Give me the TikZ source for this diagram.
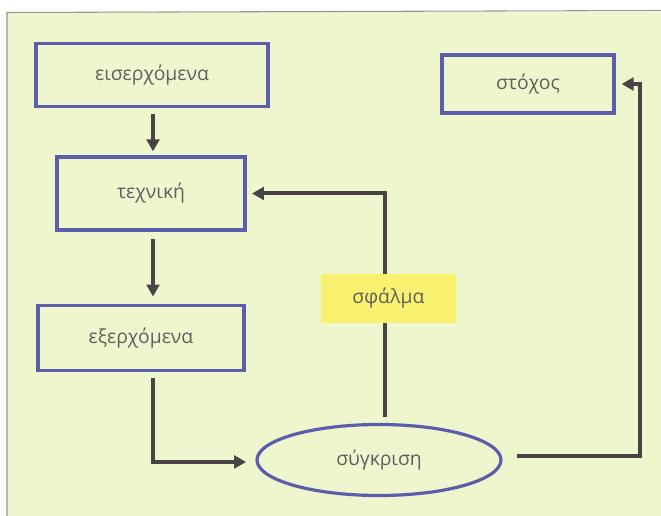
\documentclass[tikz,border=0pt]{standalone}
\usepackage{fontspec}
\setmainfont{Open Sans}
\usetikzlibrary{arrows.meta,shapes.geometric}
\definecolor{panel}{RGB}{238,246,205}
\definecolor{frameline}{RGB}{150,150,150}
\definecolor{boxblue}{RGB}{92,94,172}
\definecolor{errfill}{RGB}{251,241,112}
\definecolor{arrowgray}{RGB}{74,67,70}
\definecolor{labelgray}{RGB}{96,96,96}
\tikzset{
  labelfont/.style={text=labelgray, font=\fontsize{14.5}{17}\selectfont},
  stepbox/.style={draw=boxblue, line width=2.4pt, fill=panel, rectangle,
    inner sep=0pt, labelfont},
  errbox/.style={fill=errfill, draw=none, rectangle, inner sep=0pt, labelfont},
  cmpshape/.style={draw=boxblue, line width=2.4pt, fill=panel, ellipse,
    inner sep=0pt, labelfont},
  flow/.style={draw=arrowgray, line width=3pt,
    -{Triangle[length=9pt,width=9.5pt]}},
}
\begin{document}
\begin{tikzpicture}[x=0.75pt, y=-0.75pt]
  \useasboundingbox (0,0) rectangle (661,516);
  % page panel with its thin top and left rule
  \fill[panel] (7,12) rectangle (661,516);
  \draw[frameline, line width=0.8pt] (7,516) -- (7,12.5) -- (661,10.5);

  % boxes
  \node[stepbox, minimum width=232*0.75pt, minimum height=63*0.75pt] (in) at (152,75) {εισερχόμενα};
  \node[stepbox, minimum width=188*0.75pt, minimum height=73*0.75pt] (tech) at (151,193.5) {τεχνική};
  \node[stepbox, minimum width=206*0.75pt, minimum height=65*0.75pt] (out) at (141,338) {εξερχόμενα};
  \node[stepbox, minimum width=172*0.75pt, minimum height=58*0.75pt] (goal) at (528,84) {στόχος};
  \node[cmpshape, minimum width=244*0.75pt, minimum height=71*0.75pt] (cmp) at (379,460) {σύγκριση};

  % connectors
  \coordinate (downx) at (153,0);
  \coordinate (rightx) at (640,0);
  \draw[flow, shorten <=4.5pt, shorten >=3pt] (downx |- in.south) -- (downx |- tech.north);
  \draw[flow, shorten <=5.5pt, shorten >=5.5pt] (downx |- tech.south) -- (downx |- out.north);
  \draw[flow, shorten <=4.5pt, shorten >=7pt] (downx |- out.south) |- ([yshift=-2*0.75pt]cmp.west);
  \draw[flow, shorten <=4.5pt, shorten >=4pt] ([xshift=6*0.75pt]cmp.north) |- (tech.east);
  \draw[flow, shorten <=11pt, shorten >=4.5pt] ([yshift=4*0.75pt]cmp.east) -- ([yshift=4*0.75pt]cmp.east -| rightx) -- (rightx |- goal.east) -- (goal.east);

  % error label sits over the feedback line
  \node[errbox, minimum width=135*0.75pt, minimum height=49*0.75pt] (err) at (388.5,298.5) {σφάλμα};
\end{tikzpicture}
\end{document}
